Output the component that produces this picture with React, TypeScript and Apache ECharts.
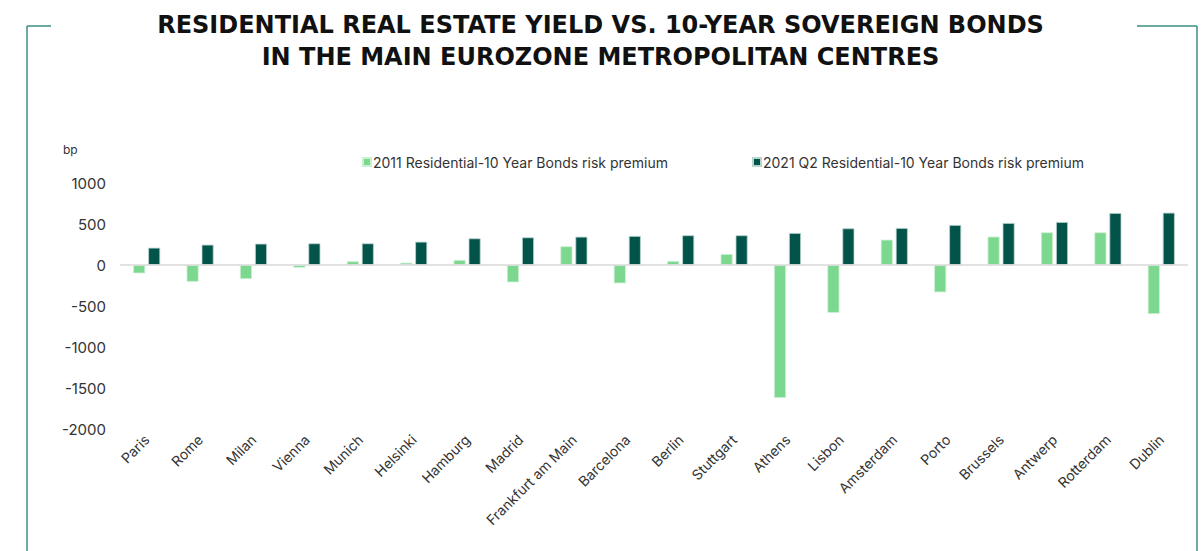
import React, { useEffect, useRef } from "react";
import * as echarts from "echarts";

const cities = ["Paris", "Rome", "Milan", "Vienna", "Munich", "Helsinki", "Hamburg", "Madrid", "Frankfurt am Main", "Barcelona", "Berlin", "Stuttgart", "Athens", "Lisbon", "Amsterdam", "Porto", "Brussels", "Antwerp", "Rotterdam", "Dublin"];
const premium2011 = [-102, -204, -171, -33, 45, 28, 61, -211, 228, -224, 49, 134, -1620, -583, 309, -333, 346, 398, 398, -598];
const premium2021Q2 = [211, 248, 260, 264, 264, 284, 325, 337, 345, 354, 362, 362, 390, 447, 451, 488, 512, 524, 634, 638];
const seriesNames = ["2011 Residential-10 Year Bonds risk premium", "2021 Q2 Residential-10 Year Bonds risk premium"];
const titleLines = ["RESIDENTIAL REAL ESTATE YIELD VS. 10-YEAR SOVEREIGN BONDS", "IN THE MAIN EUROZONE METROPOLITAN CENTRES"];
const yMin = -2000;
const yMax = 1000;
const yStep = 500;

const LIGHT = "#7BD88E";
const DARK = "#02534A";
const FRAME = "#3A8F86";
const TXT = "#333333";
const FONT = "Inter, sans-serif";
const TITLE_FONT = "bold 24px 'DejaVu Sans', sans-serif";

export default function App() {
  const ref = useRef<HTMLDivElement>(null);
  useEffect(() => {
    if (!ref.current) return;
    const chart = echarts.init(ref.current, null, { renderer: "svg" });
    chart.setOption({
      animation: false,
      backgroundColor: "#ffffff",
      textStyle: { fontFamily: FONT },
      graphic: [
        { type: "text", left: "center", top: 13, style: { text: titleLines[0], font: TITLE_FONT, fill: "#111" } },
        { type: "text", left: "center", top: 45, style: { text: titleLines[1], font: TITLE_FONT, fill: "#111" } },
        { type: "line", shape: { x1: 27, y1: 26, x2: 51, y2: 26 }, style: { stroke: FRAME, lineWidth: 1.5 } },
        { type: "line", shape: { x1: 27, y1: 26, x2: 27, y2: 551 }, style: { stroke: FRAME, lineWidth: 1.5 } },
        { type: "line", shape: { x1: 1137, y1: 26, x2: 1197, y2: 26 }, style: { stroke: FRAME, lineWidth: 1.5 } },
        { type: "line", shape: { x1: 1197, y1: 26, x2: 1197, y2: 551 }, style: { stroke: FRAME, lineWidth: 1.5 } },
        { type: "text", left: 63, top: 143, style: { text: "bp", font: "12px Inter, sans-serif", fill: TXT } },
      ],
      legend: [
        { data: [seriesNames[0]], left: 357, top: 150, itemWidth: 8, itemHeight: 8, icon: "rect", textStyle: { fontSize: 14, color: TXT, fontFamily: FONT, padding: [0, 0, 0, -3] } },
        { data: [seriesNames[1]], left: 747, top: 150, itemWidth: 8, itemHeight: 8, icon: "rect", textStyle: { fontSize: 14, color: TXT, fontFamily: FONT, padding: [0, 0, 0, -3] } },
      ],
      grid: { left: 120, right: 13, top: 183, bottom: 122, containLabel: false },
      xAxis: {
        type: "category",
        data: cities,
        axisLine: { show: false, onZero: false },
        axisTick: { show: false },
        axisLabel: { rotate: 45, fontSize: 14, color: TXT, fontFamily: FONT, margin: 8, interval: 0 },
      },
      yAxis: {
        type: "value",
        min: yMin,
        max: yMax,
        interval: yStep,
        splitLine: { show: false },
        axisLine: { show: false },
        axisTick: { show: false },
        axisLabel: { fontSize: 15, color: TXT, fontFamily: FONT, margin: 14, formatter: (v: number) => String(v) },
      },
      series: [
        {
          name: seriesNames[0],
          type: "bar",
          data: premium2011,
          barWidth: 12,
          barGap: "25%",
          itemStyle: { color: LIGHT, borderColor: "#c9f0d2", borderWidth: 0.8 },
          markLine: {
            silent: true,
            symbol: "none",
            label: { show: false },
            lineStyle: { color: "#d9d9d9", type: "solid", width: 1.5 },
            data: [{ yAxis: 0 }],
          },
        },
        {
          name: seriesNames[1],
          type: "bar",
          data: premium2021Q2,
          barWidth: 12,
          barGap: "25%",
          itemStyle: { color: DARK, borderColor: "#b9d3cf", borderWidth: 0.8 },
        },
      ],
    });
    return () => chart.dispose();
  }, []);
  return <div ref={ref} style={{ position: "fixed", left: 0, top: 0, width: 1201, height: 551 }} />;
}
